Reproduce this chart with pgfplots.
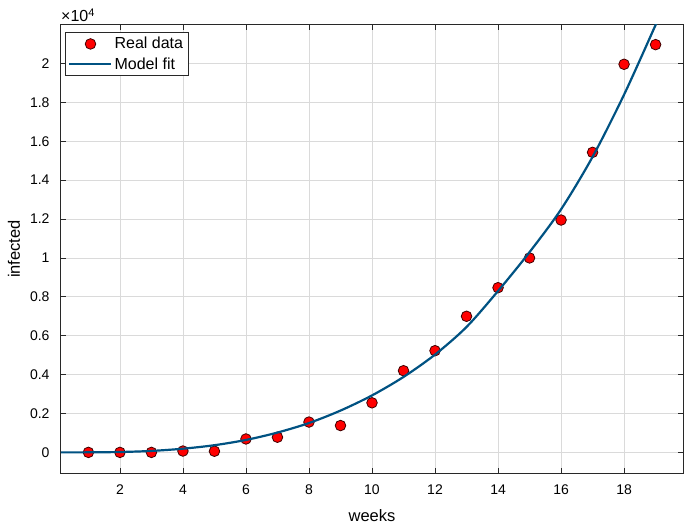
\documentclass[border=0pt]{standalone}
\usepackage{fontspec}
\setmainfont{Liberation Sans}
\usepackage{pgfplots}
\pgfplotsset{compat=1.18}
\definecolor{fitblue}{RGB}{0,82,130}
\definecolor{gridgray}{RGB}{218,218,218}
\definecolor{axgray}{RGB}{40,40,40}
\pgfplotsset{
  dotlegend/.style={legend image code/.code={\draw[##1] plot coordinates {(21pt,0pt)};}},
  linelegend/.style={legend image code/.code={\draw[##1] (0pt,0pt) -- (42pt,0pt);}},
}

\begin{document}
\begin{tikzpicture}
\begin{axis}[
  scale only axis, width=622pt, height=448pt,
  xmin=0.13, xmax=19.87, ymin=-1060, ymax=21980,
  xtick={2,4,...,18},
  ytick={0,2000,...,20000},
  scaled y ticks=base 10:-4,
  ytick scale label code/.code={},
  /pgf/number format/assume math mode=true,
  tick label style={font=\fontsize{14}{16}\selectfont},
  label style={font=\fontsize{16.5}{19}\selectfont},
  tick align=inside, major tick length=5pt,
  xmajorgrids, ymajorgrids,
  grid style={gridgray, line width=0.8pt},
  axis line style={axgray, line width=1pt},
  tick style={axgray, line width=0.8pt},
  xticklabel style={yshift=-8pt},
  yticklabel style={xshift=-8pt},
  xlabel={weeks}, ylabel={infected},
  xlabel style={at={(axis description cs:0.5,-0.094)}, anchor=center},
  ylabel style={at={(axis description cs:-0.0756,0.5)}, anchor=center},
  legend cell align=left,
  legend style={at={(rel axis cs:0,1)}, anchor=north west, xshift=4pt, yshift=-7pt,
    draw=axgray, line width=0.8pt, fill=white, inner xsep=3pt, inner ysep=3pt,
    row sep=3pt, font=\fontsize{16}{19}\selectfont},
  clip mode=individual,
]
\addplot[only marks, mark=*, mark size=5.3pt, mark options={fill=red, draw=black!75!red, line width=0.8pt},
  dotlegend]
  coordinates {
  (1,0)(2,0)(3,0)(4,70)(5,60)(6,690)(7,780)(8,1560)(9,1380)(10,2550)
  (11,4200)(12,5230)(13,7000)(14,8470)(15,10000)(16,11950)(17,15430)(18,19960)(19,20970)
  };
\addlegendentry{Real data}
\addplot[fitblue, line width=2.2pt, smooth, linelegend]
  coordinates {
  (0.13,0)(1,3)(2,20)(3,75)(4,190)(5,370)(6,640)(7,1020)(8,1510)(9,2150)(10,2930)
  (11,3880)(12,5030)(13,6450)(14,8300)(15,10300)(16,12500)(17,15200)(18,18400)(19,21980)(19.05,22150)
  };
\addlegendentry{Model fit}
\node[anchor=south west, inner sep=0pt, yshift=3pt]
  at (rel axis cs:0,1) {\fontsize{16}{18}\selectfont ×10\raisebox{0.6ex}{\fontsize{11}{12}\selectfont 4}};
\end{axis}
\path ([xshift=-61pt,yshift=-55pt]current axis.south west) rectangle ([xshift=5pt,yshift=25pt]current axis.north east);
\end{tikzpicture}
\end{document}
